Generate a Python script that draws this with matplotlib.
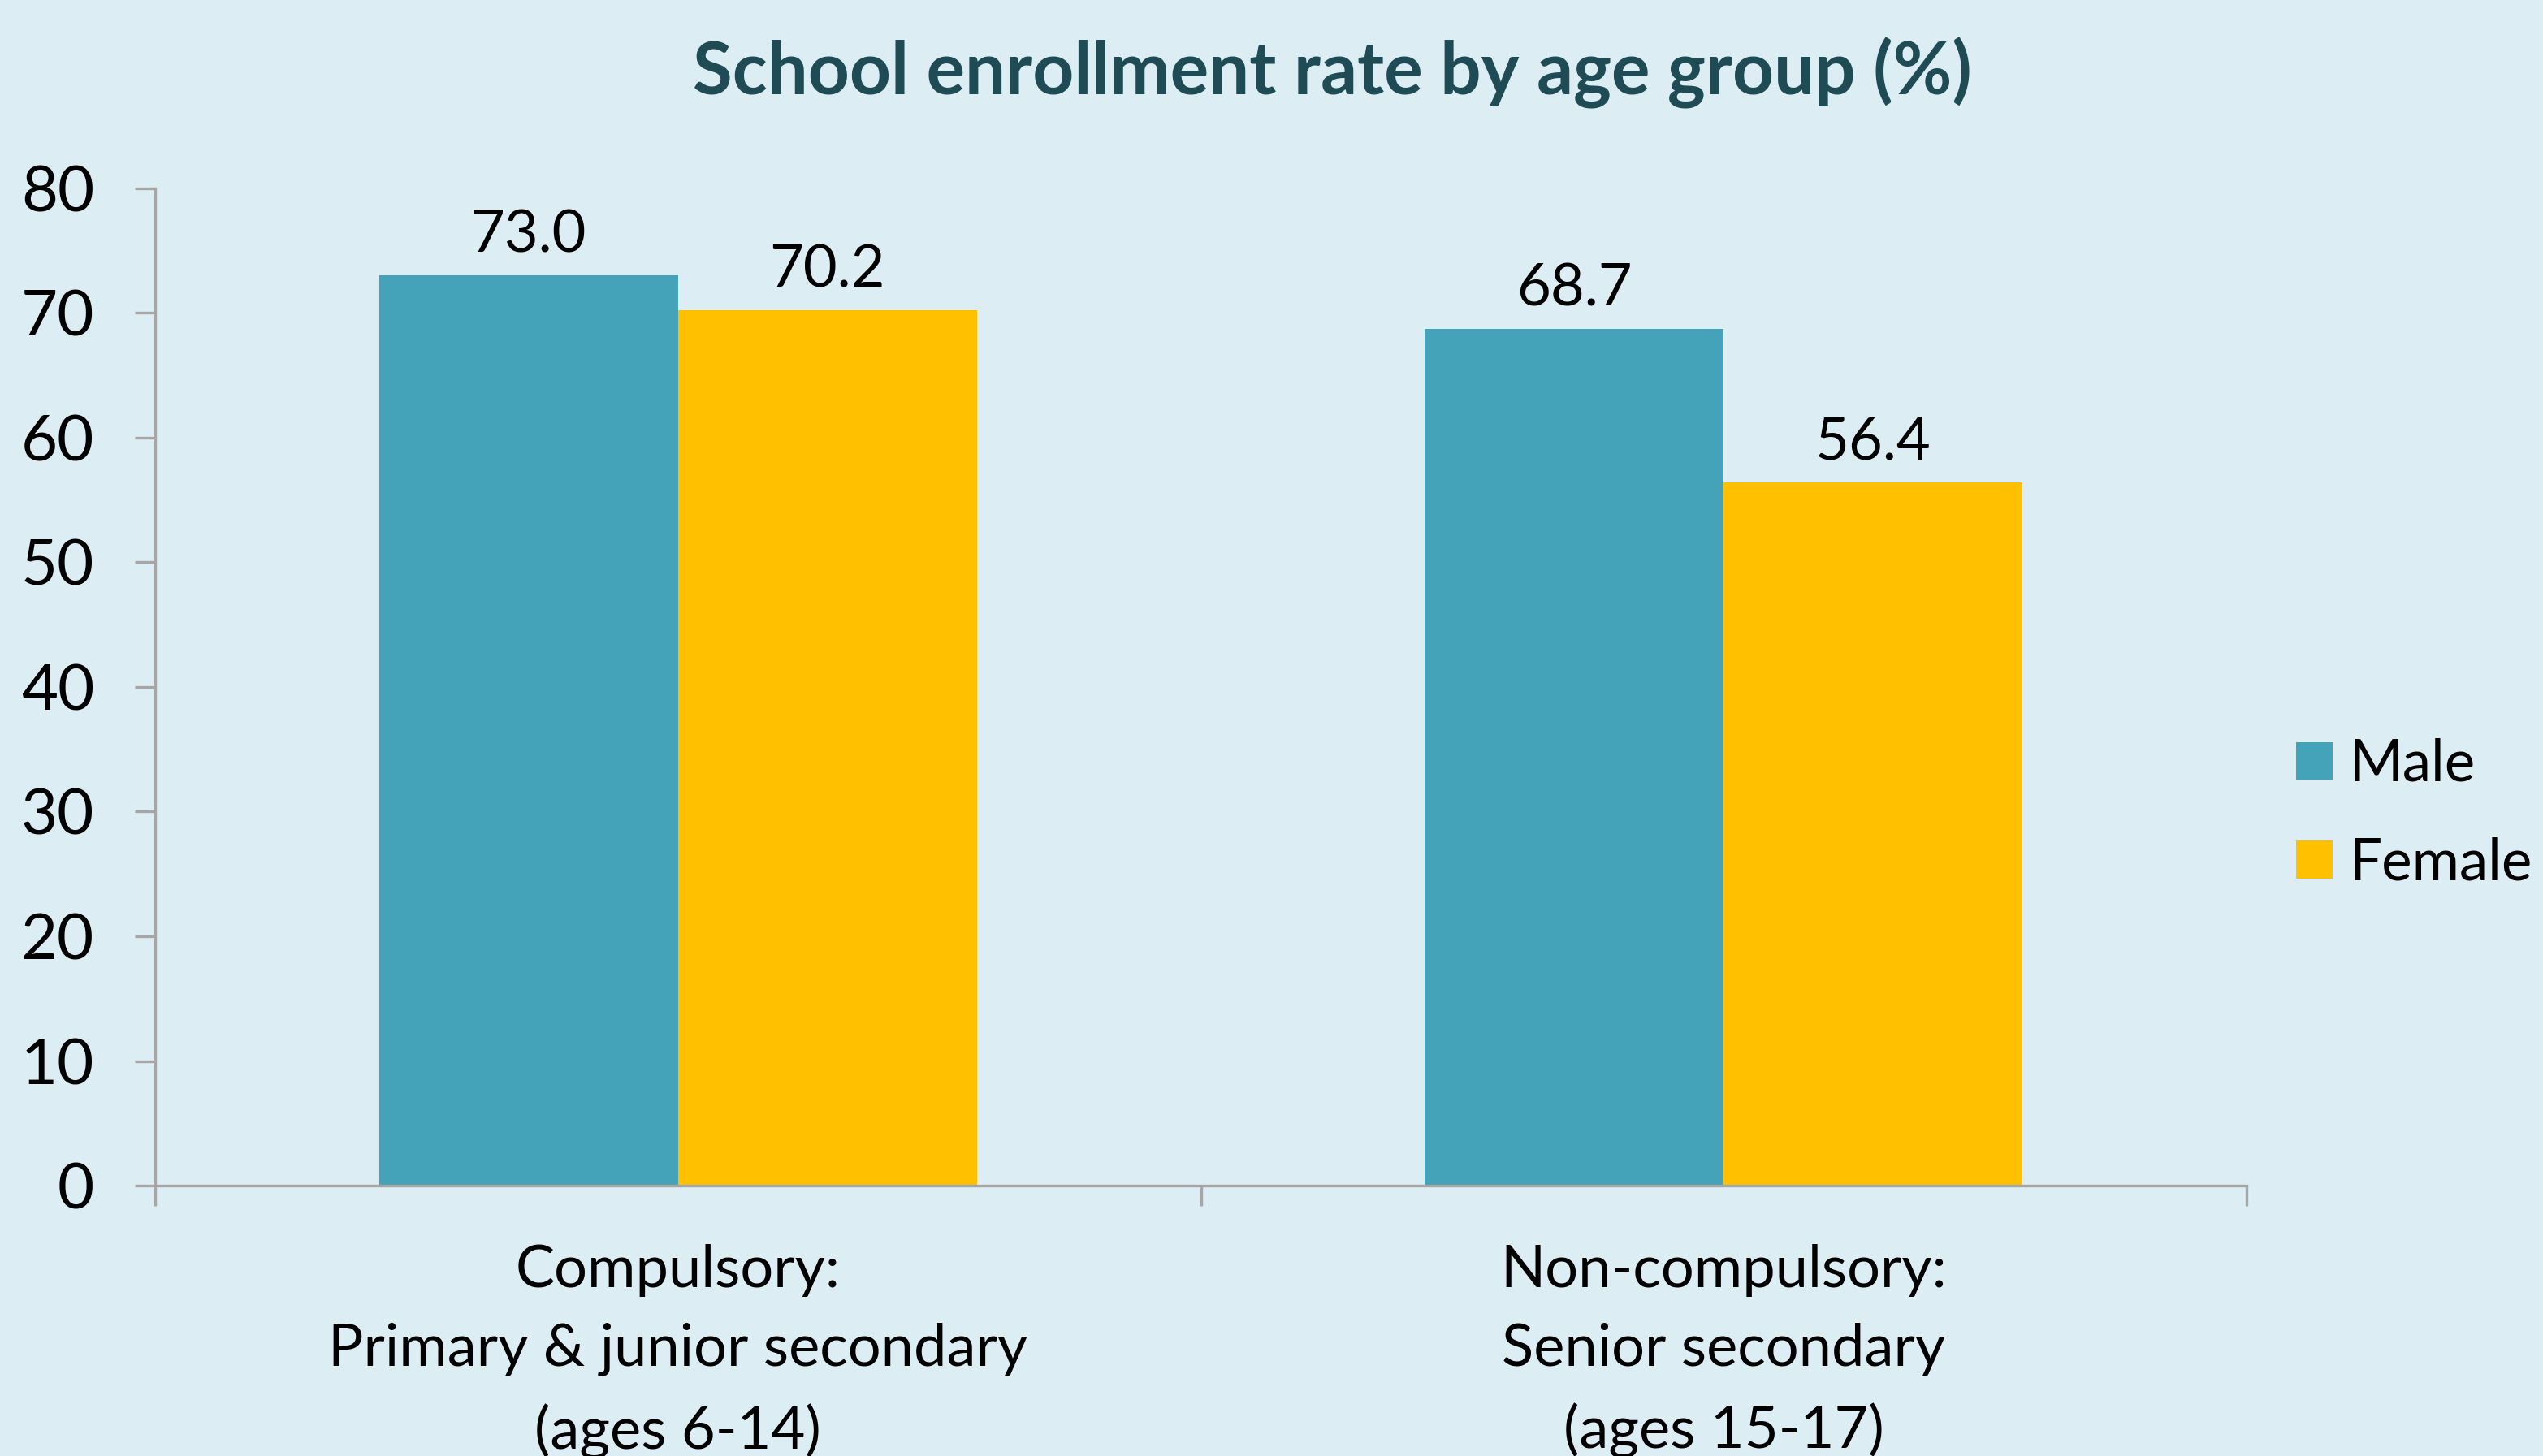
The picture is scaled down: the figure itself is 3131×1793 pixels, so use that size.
import matplotlib.pyplot as plt
import numpy as np

categories = ["Compulsory:\nPrimary & junior secondary\n(ages 6-14)",
              "Non-compulsory:\nSenior secondary\n(ages 15-17)"]
series_names = ["Male", "Female"]
male = [73.0, 68.7]
female = [70.2, 56.4]
yticks = [0, 10, 20, 30, 40, 50, 60, 70, 80]

colors = ["#44A3B8", "#FFC000"]
bg = "#DDEDF4"
spine_col = "#A6A6A6"

plt.rcParams['font.family'] = ['Lato', 'DejaVu Sans']

fig = plt.figure(figsize=(31.31 / 2, 17.93 / 2), dpi=200, facecolor=bg)
ax = fig.add_axes([191 / 3131, 1 - 1460 / 1793, (2766 - 191) / 3131, (1460 - 232) / 1793])
ax.set_facecolor(bg)

x = np.arange(len(categories)) + 0.5
w = 0.286
b1 = ax.bar(x - w / 2, male, w, color=colors[0], label=series_names[0])
b2 = ax.bar(x + w / 2, female, w, color=colors[1], label=series_names[1])

for bars, vals in [(b1, male), (b2, female)]:
    for r, v in zip(bars, vals):
        ax.annotate(f"{v:.1f}", (r.get_x() + r.get_width() / 2, v),
                    xytext=(0, 6), textcoords="offset points",
                    ha="center", va="bottom", fontsize=26, color="black")

ax.set_xlim(0, len(categories))
ax.set_ylim(0, 80)
ax.set_yticks(yticks)
ax.set_yticklabels([str(t) for t in yticks])
ax.set_xticks(np.arange(len(categories) + 1))
ax.set_xticklabels([])
ax.set_xticks(x, minor=True)
ax.set_xticklabels(categories, minor=True, fontsize=26, linespacing=1.6)

ax.tick_params(axis="y", length=9, width=1.2, color=spine_col, labelsize=28, pad=18)
ax.tick_params(axis="x", which="major", length=9, width=1.2, color=spine_col)
ax.tick_params(axis="x", which="minor", length=0, pad=26)

for s in ["top", "right"]:
    ax.spines[s].set_visible(False)
for s in ["left", "bottom"]:
    ax.spines[s].set_color(spine_col)
    ax.spines[s].set_linewidth(1.2)

fig.text(1640 / 3131, 1 - 90 / 1793, "School enrollment rate by age group (%)",
         ha="center", va="center", fontsize=32, fontweight="bold", color="#1F4B55")

fig.legend(handles=[b1, b2], labels=series_names, loc="center left",
           bbox_to_anchor=(2827 / 3131, 1 - 1002 / 1793), frameon=False,
           fontsize=25.5, handlelength=0.63, handleheight=0.63, handletextpad=0.3,
           labelspacing=0.8, borderpad=0, borderaxespad=0)

fig.savefig("out.png", dpi=200, facecolor=bg)
